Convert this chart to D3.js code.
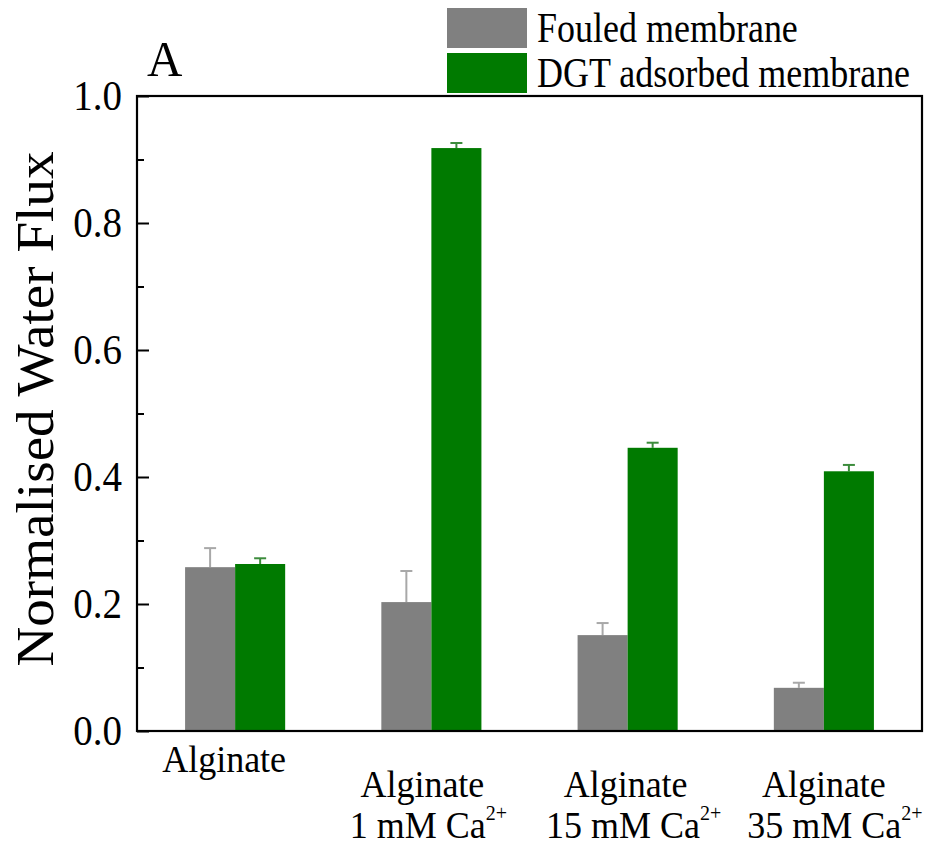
<!DOCTYPE html>
<html>
<head>
<meta charset="utf-8">
<script src="https://cdn.jsdelivr.net/npm/d3@7/dist/d3.min.js"></script>
<style>
  html, body { margin: 0; padding: 0; background: #fff; }
  text { font-family: "Liberation Serif", "Times New Roman", serif; fill: #000; }
</style>
</head>
<body>
<svg id="chart" width="927" height="848"></svg>
<script>
// ---- data ----
const categories = ["Alginate", "Alginate 1 mM", "Alginate 15 mM", "Alginate 35 mM"];
const catLine1 = ["Alginate", "Alginate", "Alginate", "Alginate"];
const catLine2 = ["", "1 mM Ca", "15 mM Ca", "35 mM Ca"];
const seriesNames = ["Fouled membrane", "DGT adsorbed membrane"];
const fouled = [0.258, 0.203, 0.151, 0.068];
const fouledErr = [0.030, 0.049, 0.019, 0.008];
const dgt = [0.263, 0.918, 0.446, 0.409];
const dgtErr = [0.009, 0.008, 0.008, 0.010];
const yTicks = [0.0, 0.2, 0.4, 0.6, 0.8, 1.0];
const yMinorTicks = [0.1, 0.3, 0.5, 0.7, 0.9];

// layout (label nudges, px)
const line1Nudge = [-11, -9, -2, 0];
const line2Nudge = [0, -3, 6, 11];

const colors = ["#808080", "#007a00"];
const errColors = ["#a8a8a8", "#3c8c3c"];

const svg = d3.select("#chart");
const L = 137, R = 922, T = 96, B = 731;

const x0 = d3.scaleBand().domain(categories).range([L, R]).paddingInner(0.49).paddingOuter(0.245);
const x1 = d3.scaleBand().domain(seriesNames).range([0, x0.bandwidth()]);
const y = d3.scaleLinear().domain([0, 1]).range([B, T]);

const data = categories.map((c, i) => ({
  cat: c,
  vals: [
    { s: seriesNames[0], v: fouled[i], e: fouledErr[i], k: 0 },
    { s: seriesNames[1], v: dgt[i], e: dgtErr[i], k: 1 }
  ]
}));

const g = svg.append("g");
const groups = g.selectAll("g.grp").data(data).join("g")
  .attr("transform", d => `translate(${x0(d.cat)},0)`);

// error bars (upper only)
groups.selectAll("g.err").data(d => d.vals).join("g").each(function(d) {
  const cx = x1(d.s) + x1.bandwidth() / 2;
  const sel = d3.select(this);
  sel.append("line").attr("x1", cx).attr("x2", cx)
    .attr("y1", y(d.v)).attr("y2", y(d.v + d.e))
    .attr("stroke", errColors[d.k]).attr("stroke-width", 2);
  sel.append("line").attr("x1", cx - 6).attr("x2", cx + 6)
    .attr("y1", y(d.v + d.e)).attr("y2", y(d.v + d.e))
    .attr("stroke", errColors[d.k]).attr("stroke-width", 2);
});

groups.selectAll("rect").data(d => d.vals).join("rect")
  .attr("x", d => x1(d.s))
  .attr("width", x1.bandwidth())
  .attr("y", d => y(d.v))
  .attr("height", d => y(0) - y(d.v))
  .attr("fill", d => colors[d.k]);

// frame
svg.append("rect").attr("x", L).attr("y", T).attr("width", R - L).attr("height", B - T)
  .attr("fill", "none").attr("stroke", "#000").attr("stroke-width", 2.2);

// y axis
const yAxis = d3.axisRight(y).tickValues(yTicks).tickSize(12).tickFormat("");
const ya = svg.append("g").attr("transform", `translate(${L},0)`).call(yAxis);
ya.select(".domain").remove();
ya.selectAll(".tick line").attr("stroke", "#000").attr("stroke-width", 2);
const yMinor = d3.axisRight(y).tickValues(yMinorTicks).tickSize(7).tickFormat("");
const ym = svg.append("g").attr("transform", `translate(${L},0)`).call(yMinor);
ym.select(".domain").remove();
ym.selectAll(".tick line").attr("stroke", "#000").attr("stroke-width", 2);

svg.append("g").selectAll("text").data(yTicks).join("text")
  .attr("transform", d => `translate(122,${y(d)}) scale(1,1.06)`)
  .attr("dy", "0.35em")
  .attr("text-anchor", "end").style("font-size", "39px")
  .text(d3.format(".1f"));

// y label
svg.append("text")
  .attr("transform", `translate(53,409) rotate(-90) scale(1.04,1)`)
  .attr("text-anchor", "middle").style("font-size", "53px")
  .text("Normalised Water Flux");

// panel letter
svg.append("text").attr("transform", "translate(147,76) scale(1,1.05)")
  .style("font-size", "49px").text("A");

// x labels
const cx = d => x0(d) + x0.bandwidth() / 2;
categories.forEach((c, i) => {
  if (!catLine2[i]) {
    svg.append("text").attr("transform", `translate(${cx(c) + line1Nudge[i]},772) scale(1,1.08)`)
      .attr("text-anchor", "middle").style("font-size", "36px").text(catLine1[i]);
  } else {
    svg.append("text").attr("transform", `translate(${cx(c) + line1Nudge[i]},797) scale(1,1.08)`)
      .attr("text-anchor", "middle").style("font-size", "36px").text(catLine1[i]);
    const t = svg.append("text").attr("transform", `translate(${cx(c) + line2Nudge[i]},838) scale(1,1.08)`)
      .attr("text-anchor", "middle").style("font-size", "36px");
    t.append("tspan").text(catLine2[i]);
    t.append("tspan").attr("dy", -17).style("font-size", "20px").text("2+");
  }
});

// legend
const leg = svg.append("g");
seriesNames.forEach((s, i) => {
  leg.append("rect").attr("x", 447).attr("y", 8 + i * 45).attr("width", 80).attr("height", 40)
    .attr("fill", colors[i]);
  leg.append("text").attr("transform", `translate(537,${42 + i * 45}) scale(1,1.15)`)
    .style("font-size", "36px").text(s);
});
</script>
</body>
</html>
